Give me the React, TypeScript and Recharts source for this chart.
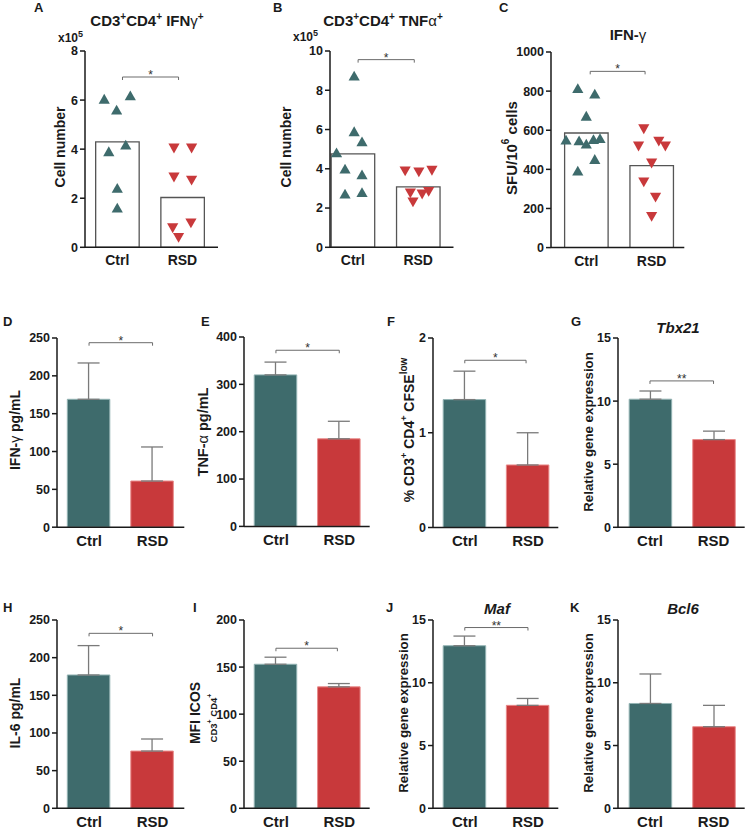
import React from 'react';
import { ComposedChart, Bar, Scatter, XAxis, YAxis, ErrorBar, Cell, ReferenceLine } from 'recharts';

const FONT = '"Liberation Sans", Arial, Helvetica, sans-serif';
const TEAL = '#3e6b6c';
const RED = '#c8393b';
const TEAL_EDGE = '#93b3b3';
const RED_EDGE = '#e88a8a';
const INK = '#1a1a1a';

const GROUPS = ['Ctrl', 'RSD'];
const GROUP_POS = [1, 2];

// ---- Panel A: CD3+CD4+ IFNg+ cell number (x10^5)
const A_BAR = [4.3, 2.03];
const A_CTRL_X = [0.8, 0.99, 1.2, 0.87, 1.13, 1.0, 1.0];
const A_CTRL_Y = [6.03, 5.59, 6.17, 3.89, 4.16, 2.4, 1.59];
const A_RSD_X = [1.87, 2.14, 1.87, 2.14, 1.85, 2.13, 1.94];
const A_RSD_Y = [4.05, 4.05, 2.87, 2.74, 0.8, 1.0, 0.41];
const A_TICKS = [0, 2, 4, 6, 8];
const A_SIG = { from: 1.08, to: 1.94, y: 6.94, label: '*' };

// ---- Panel B: CD3+CD4+ TNFa+ cell number (x10^5)
const B_BAR = [4.76, 3.08];
const B_CTRL_X = [1.02, 1.02, 1.14, 0.75, 0.88, 1.14, 0.88, 1.14];
const B_CTRL_Y = [8.71, 5.88, 5.37, 4.81, 3.98, 3.68, 2.7, 2.78];
const B_RSD_X = [1.8, 2.01, 2.21, 1.88, 2.06, 2.16, 1.92];
const B_RSD_Y = [3.9, 3.85, 3.93, 2.78, 2.72, 2.85, 2.32];
const B_TICKS = [0, 2, 4, 6, 8, 10];
const B_SIG = { from: 1.08, to: 1.94, y: 9.56, label: '*' };

// ---- Panel C: IFN-g SFU/10^6 cells
const C_BAR = [586, 419];
const C_CTRL_X = [0.87, 1.13, 1.0, 0.69, 0.89, 1.0, 1.11, 1.21, 1.13, 0.87];
const C_CTRL_Y = [812, 784, 671, 549, 545, 528, 552, 557, 450, 390];
const C_RSD_X = [1.88, 1.8, 2.11, 2.21, 2.0, 1.88, 2.06, 2.0];
const C_RSD_Y = [608, 520, 545, 520, 433, 336, 259, 160];
const C_TICKS = [0, 200, 400, 600, 800, 1000];
const C_SIG = { from: 1.06, to: 1.9, y: 901, label: '*' };

// ---- Mean bars with upper SEM
const D_MEAN = [169, 61];
const D_UPPER = [217, 106];
const D_TICKS = [0, 50, 100, 150, 200, 250];
const D_SIG = { from: 1.0, to: 2.0, y: 243.8, label: '*' };

const E_MEAN = [320, 185];
const E_UPPER = [347, 222];
const E_TICKS = [0, 100, 200, 300, 400];
const E_SIG = { from: 1.0, to: 2.0, y: 372, label: '*' };

const F_MEAN = [1.35, 0.66];
const F_UPPER = [1.65, 1.0];
const F_TICKS = [0, 1, 2];
const F_SIG = { from: 1.0, to: 1.97, y: 1.765, label: '*' };

const G_MEAN = [10.15, 6.95];
const G_UPPER = [10.8, 7.62];
const G_TICKS = [0, 5, 10, 15];
const G_SIG = { from: 1.0, to: 2.0, y: 11.6, label: '**' };

const H_MEAN = [177, 76];
const H_UPPER = [216, 92];
const H_TICKS = [0, 50, 100, 150, 200, 250];
const H_SIG = { from: 1.0, to: 2.0, y: 232.3, label: '*' };

const I_MEAN = [153, 129];
const I_UPPER = [160.5, 132.5];
const I_TICKS = [0, 50, 100, 150, 200];
const I_SIG = { from: 1.0, to: 1.97, y: 170, label: '*' };

const J_MEAN = [12.95, 8.2];
const J_UPPER = [13.72, 8.75];
const J_TICKS = [0, 5, 10, 15];
const J_SIG = { from: 1.0, to: 2.0, y: 14.4, label: '**' };

const K_MEAN = [8.35, 6.5];
const K_UPPER = [10.7, 8.2];
const K_TICKS = [0, 5, 10, 15];

const pts = (xs: number[], ys: number[]) => xs.map((x, i) => ({ x, v: ys[i] }));

const UpTri = (p: any) => {
  const { cx, cy } = p;
  if (cx == null || cy == null) return null;
  return <polygon points={`${cx},${cy - 5.5} ${cx - 5.6},${cy + 4.3} ${cx + 5.6},${cy + 4.3}`} fill={TEAL} />;
};
const DownTri = (p: any) => {
  const { cx, cy } = p;
  if (cx == null || cy == null) return null;
  return <polygon points={`${cx - 5.6},${cy - 4.3} ${cx + 5.6},${cy - 4.3} ${cx},${cy + 5.5}`} fill={RED} />;
};

const BracketShape = (p: any) => {
  const { x1, y1, x2, y2 } = p;
  if (x1 == null) return null;
  return <path d={`M${x1},${y1 + 3} L${x1},${y1} L${x2},${y2} L${x2},${y2 + 3}`} fill="none" stroke="#6a6a6a" strokeWidth={1} />;
};

type Layout = { x0: number; x1: number; y0: number; y1: number; xDomain: [number, number] };

type PanelProps = {
  layout: Layout;
  bars: number[];
  upper?: number[];
  hollow?: boolean;
  ctrl?: { x: number; v: number }[];
  rsd?: { x: number; v: number }[];
  sig?: { from: number; to: number; y: number; label: string };
  ticks: number[];
  barSize: number;
  xFont: number;
  yFont: number;
};

function Panel({ layout, bars, upper, hollow, ctrl, rsd, sig, ticks, barSize, xFont, yFont }: PanelProps) {
  const ML = 60, MT = 12, MR = 8, XH = 30;
  const width = layout.x1 - layout.x0 + ML + MR;
  const height = layout.y1 - layout.y0 + MT + XH;
  const yMax = ticks[ticks.length - 1];
  const data = bars.map((v, i) => ({ x: GROUP_POS[i], v, e: upper ? [0, upper[i] - v] : [0, 0] }));
  const fills = [TEAL, RED];
  const edges = [TEAL_EDGE, RED_EDGE];
  return (
    <div style={{ position: 'absolute', left: layout.x0 - ML, top: layout.y0 - MT }}>
      <ComposedChart width={width} height={height} data={data} margin={{ top: MT, right: MR, bottom: 0, left: 0 }}>
        <XAxis
          type="number"
          dataKey="x"
          domain={layout.xDomain}
          allowDataOverflow
          ticks={GROUP_POS}
          interval={0}
          tickFormatter={(v: number) => GROUPS[GROUP_POS.indexOf(v)]}
          tickLine={false}
          tickSize={0}
          tickMargin={8}
          height={XH}
          axisLine={{ stroke: INK, strokeWidth: 1.5 }}
          tick={{ fontSize: xFont, fontWeight: 'bold', fill: INK }}
        />
        <XAxis xAxisId="pts" type="number" dataKey="x" domain={layout.xDomain} allowDataOverflow hide />
        <YAxis
          type="number"
          domain={[0, yMax]}
          allowDataOverflow
          ticks={ticks}
          interval={0}
          width={ML}
          tickSize={5}
          tickMargin={2}
          axisLine={{ stroke: INK, strokeWidth: 1.5 }}
          tickLine={{ stroke: INK, strokeWidth: 1.5 }}
          tick={{ fontSize: yFont, fontWeight: 'bold', fill: INK }}
        />
        <Bar dataKey="v" barSize={barSize} isAnimationActive={false}>
          {data.map((d, i) => (
            <Cell
              key={i}
              fill={hollow ? '#ffffff' : fills[i]}
              stroke={hollow ? '#555555' : edges[i]}
              strokeWidth={hollow ? 1.3 : 1}
            />
          ))}
          {upper && <ErrorBar dataKey="e" direction="y" width={11} stroke="#7a7a7a" strokeWidth={1.3} />}
        </Bar>
        {ctrl && <Scatter xAxisId="pts" data={ctrl} dataKey="v" shape={UpTri} isAnimationActive={false} />}
        {rsd && <Scatter xAxisId="pts" data={rsd} dataKey="v" shape={DownTri} isAnimationActive={false} />}
        {sig && (
          <ReferenceLine
            segment={[{ x: sig.from, y: sig.y }, { x: sig.to, y: sig.y }]}
            shape={BracketShape}
            label={{ value: sig.label, position: 'top', offset: -2, fontSize: 12, fill: '#333' }}
          />
        )}
      </ComposedChart>
    </div>
  );
}

const TOP_A: Layout = { x0: 85, x1: 218, y0: 51, y1: 247.3, xDomain: [0.505, 2.545] };
const TOP_B: Layout = { x0: 329.5, x1: 453, y0: 51, y1: 247.3, xDomain: [0.65, 2.54] };
const TOP_C: Layout = { x0: 550.7, x1: 684, y0: 51.7, y1: 247.3, xDomain: [0.46, 2.5] };
const MID_D: Layout = { x0: 56.7, x1: 184, y0: 337.6, y1: 526.8, xDomain: [0.495, 2.5] };
const MID_E: Layout = { x0: 244.3, x1: 370, y0: 337.4, y1: 526.8, xDomain: [0.496, 2.48] };
const MID_F: Layout = { x0: 432.7, x1: 558, y0: 337.7, y1: 527.2, xDomain: [0.497, 2.48] };
const MID_G: Layout = { x0: 618.3, x1: 745, y0: 337.7, y1: 527, xDomain: [0.497, 2.49] };
const BOT_H: Layout = { x0: 56.7, x1: 184, y0: 620, y1: 808.3, xDomain: [0.495, 2.5] };
const BOT_I: Layout = { x0: 244.3, x1: 370, y0: 620, y1: 808.3, xDomain: [0.496, 2.48] };
const BOT_J: Layout = { x0: 432.7, x1: 558, y0: 620, y1: 808.3, xDomain: [0.497, 2.48] };
const BOT_K: Layout = { x0: 618.3, x1: 745, y0: 620, y1: 808.3, xDomain: [0.497, 2.49] };

const VLabel = ({ x, y, fs, children }: { x: number; y: number; fs: number; children: React.ReactNode }) => (
  <text transform={`translate(${x},${y}) rotate(-90)`} textAnchor="middle" dominantBaseline="central" fontSize={fs} fontWeight="bold" fill={INK}>
    {children}
  </text>
);

function Overlay() {
  const L = (x: number, y: number, t: string) => (
    <text x={x} y={y} fontSize={13} fontWeight="bold" fill={INK}>{t}</text>
  );
  return (
    <svg width={747} height={830} style={{ position: 'absolute', left: 0, top: 0, pointerEvents: 'none' }} fontFamily={FONT}>
      {L(34, 12, 'A')}
      {L(273, 12, 'B')}
      {L(499, 12, 'C')}
      {L(3, 326, 'D')}
      {L(201, 326, 'E')}
      {L(387, 326, 'F')}
      {L(571, 326, 'G')}
      {L(3, 612, 'H')}
      {L(193, 612, 'I')}
      {L(386, 612, 'J')}
      {L(570, 612, 'K')}

      <text x={147} y={26} textAnchor="middle" fontSize={15} fontWeight="bold" fill={INK}>
        CD3<tspan dy={-6} fontSize={10}>+</tspan><tspan dy={6}>CD4</tspan><tspan dy={-6} fontSize={10}>+</tspan>
        <tspan dy={6}> IFN</tspan><tspan fontWeight="normal">γ</tspan><tspan dy={-6} fontSize={10}>+</tspan>
      </text>
      <text x={383} y={26} textAnchor="middle" fontSize={15} fontWeight="bold" fill={INK}>
        CD3<tspan dy={-6} fontSize={10}>+</tspan><tspan dy={6}>CD4</tspan><tspan dy={-6} fontSize={10}>+</tspan>
        <tspan dy={6}> TNF</tspan><tspan fontWeight="normal">α</tspan><tspan dy={-6} fontSize={10}>+</tspan>
      </text>
      <text x={628} y={40} textAnchor="middle" fontSize={15} fontWeight="bold" fill={INK}>
        IFN-<tspan fontWeight="normal">γ</tspan>
      </text>
      <text x={58} y={42} fontSize={12} fontWeight="bold" fill={INK}>
        x10<tspan dy={-5} fontSize={9}>5</tspan>
      </text>
      <text x={293} y={41} fontSize={12} fontWeight="bold" fill={INK}>
        x10<tspan dy={-5} fontSize={9}>5</tspan>
      </text>

      <VLabel x={60} y={147} fs={14}>Cell number</VLabel>
      <VLabel x={286} y={147} fs={14}>Cell number</VLabel>
      <VLabel x={511} y={148} fs={15}>
        SFU/10<tspan dy={-6} fontSize={10}>6</tspan><tspan dy={6}> cells</tspan>
      </VLabel>

      <VLabel x={15} y={430} fs={14}>
        IFN-<tspan fontWeight="normal">γ</tspan> pg/mL
      </VLabel>
      <VLabel x={203} y={432} fs={14.5}>
        TNF-<tspan fontWeight="normal">α</tspan> pg/mL
      </VLabel>
      <VLabel x={409} y={430} fs={14}>
        % CD3<tspan dy={-5} fontSize={9}>+</tspan><tspan dy={5}> CD4</tspan><tspan dy={-5} fontSize={9}>+</tspan>
        <tspan dy={5}> CFSE</tspan><tspan dy={-6} fontSize={10}>low</tspan>
      </VLabel>
      <VLabel x={588} y={432} fs={13.3}>Relative gene expression</VLabel>
      <text x={678} y={333} textAnchor="middle" fontSize={15} fontWeight="bold" fontStyle="italic" fill={INK}>Tbx21</text>

      <VLabel x={15} y={713} fs={14}>IL-6 pg/mL</VLabel>
      <VLabel x={195} y={713} fs={14}>MFI ICOS</VLabel>
      <VLabel x={213} y={718} fs={9.5}>
        CD3<tspan dy={-4} fontSize={7}>+</tspan><tspan dy={4}> CD4</tspan><tspan dy={-4} fontSize={7}>+</tspan>
      </VLabel>
      <VLabel x={403} y={713} fs={13.3}>Relative gene expression</VLabel>
      <text x={497} y={614} textAnchor="middle" fontSize={15} fontWeight="bold" fontStyle="italic" fill={INK}>Maf</text>
      <VLabel x={588} y={713} fs={13.3}>Relative gene expression</VLabel>
      <text x={683} y={614} textAnchor="middle" fontSize={15} fontWeight="bold" fontStyle="italic" fill={INK}>Bcl6</text>
    </svg>
  );
}

export default function App() {
  const top = { barSize: 43.5, xFont: 14, yFont: 12.5 };
  const low = { barSize: 42.5, xFont: 15, yFont: 12.5 };
  return (
    <div style={{ position: 'absolute', left: 0, top: 0, width: 747, height: 830, background: '#fff', fontFamily: FONT, overflow: 'hidden' }}>
      <Panel layout={TOP_A} bars={A_BAR} hollow ctrl={pts(A_CTRL_X, A_CTRL_Y)} rsd={pts(A_RSD_X, A_RSD_Y)} sig={A_SIG} ticks={A_TICKS} {...top} />
      <Panel layout={TOP_B} bars={B_BAR} hollow ctrl={pts(B_CTRL_X, B_CTRL_Y)} rsd={pts(B_RSD_X, B_RSD_Y)} sig={B_SIG} ticks={B_TICKS} {...top} />
      <Panel layout={TOP_C} bars={C_BAR} hollow ctrl={pts(C_CTRL_X, C_CTRL_Y)} rsd={pts(C_RSD_X, C_RSD_Y)} sig={C_SIG} ticks={C_TICKS} {...top} />

      <Panel layout={MID_D} bars={D_MEAN} upper={D_UPPER} sig={D_SIG} ticks={D_TICKS} {...low} />
      <Panel layout={MID_E} bars={E_MEAN} upper={E_UPPER} sig={E_SIG} ticks={E_TICKS} {...low} />
      <Panel layout={MID_F} bars={F_MEAN} upper={F_UPPER} sig={F_SIG} ticks={F_TICKS} {...low} />
      <Panel layout={MID_G} bars={G_MEAN} upper={G_UPPER} sig={G_SIG} ticks={G_TICKS} {...low} />

      <Panel layout={BOT_H} bars={H_MEAN} upper={H_UPPER} sig={H_SIG} ticks={H_TICKS} {...low} />
      <Panel layout={BOT_I} bars={I_MEAN} upper={I_UPPER} sig={I_SIG} ticks={I_TICKS} {...low} />
      <Panel layout={BOT_J} bars={J_MEAN} upper={J_UPPER} sig={J_SIG} ticks={J_TICKS} {...low} />
      <Panel layout={BOT_K} bars={K_MEAN} upper={K_UPPER} ticks={K_TICKS} {...low} />

      <Overlay />
    </div>
  );
}
